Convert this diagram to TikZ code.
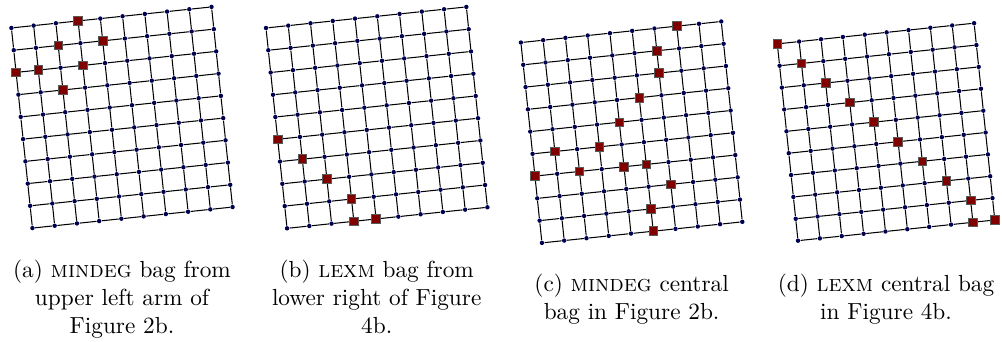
\documentclass[tikz,border=0pt]{standalone}
\usepackage{tikz}
\usetikzlibrary{positioning}

\definecolor{dotblue}{RGB}{0,0,80}
\definecolor{bagred}{RGB}{128,0,0}

% #1 name, #2 centre, #3 cell size, #4 bag vertices (column/row)
\newcommand{\baggrid}[4]{%
  \begin{scope}[shift={#2},rotate=6]
    \foreach \i in {0,...,9}
      \foreach \j in {0,...,9}
        \node[vdot] (#1-\i-\j) at ({(\i-4.5)*#3},{(4.5-\j)*#3}) {};
    \foreach \i in {0,...,9}
      \foreach \j [count=\k] in {0,...,8} {
        \draw[gridline] (#1-\i-\j) -- (#1-\i-\k);
        \draw[gridline] (#1-\j-\i) -- (#1-\k-\i);
      }
    \foreach \i/\j in {#4}
      \node[bagv] (#1-bag-\i-\j) at (#1-\i-\j) {};
  \end{scope}}

\begin{document}
\begin{tikzpicture}
  \tikzstyle{vdot}=[circle,fill=dotblue,inner sep=0pt,minimum size=1.9pt]
  \tikzstyle{bagv}=[rectangle,fill=bagred,draw=black!65,line width=0.35pt,inner sep=0pt,minimum size=3.7pt]
  \tikzstyle{gridline}=[line width=0.45pt]
  \tikzstyle{subcap}=[align=center,inner sep=0pt,anchor=north]
  \useasboundingbox (0,0) rectangle (15.13,-5.149);

  \baggrid{a}{(1.842,-1.774)}{0.3376}{3/0,2/1,4/1,0/2,1/2,3/2,2/3}
  \baggrid{b}{(5.688,-1.776)}{0.338}{0/5,1/6,2/7,3/8,3/9,4/9}
  \baggrid{c}{(9.537,-1.996)}{0.338}{7/0,6/1,6/2,5/3,4/4,1/5,3/5,0/6,2/6,4/6,5/6,6/7,5/8,5/9}
  \baggrid{d}{(13.379,-1.992)}{0.332}{0/0,1/1,2/2,3/3,4/4,5/5,6/6,7/7,8/8,8/9,9/9}

  \node[subcap] (capa) at (1.842,-3.92) {(a) \textsc{mindeg} bag from\\upper left arm of\\Figure 2b.};
  \node[subcap] (capb) at (5.688,-3.92) {(b) \textsc{lexm} bag from\\lower right of Figure\\4b.};
  \node[subcap] (capc) at (9.537,-4.131) {(c) \textsc{mindeg} central\\bag in Figure 2b.};
  \node[subcap] (capd) at (13.379,-4.131) {(d) \textsc{lexm} central bag\\in Figure 4b.};
\end{tikzpicture}
\end{document}
